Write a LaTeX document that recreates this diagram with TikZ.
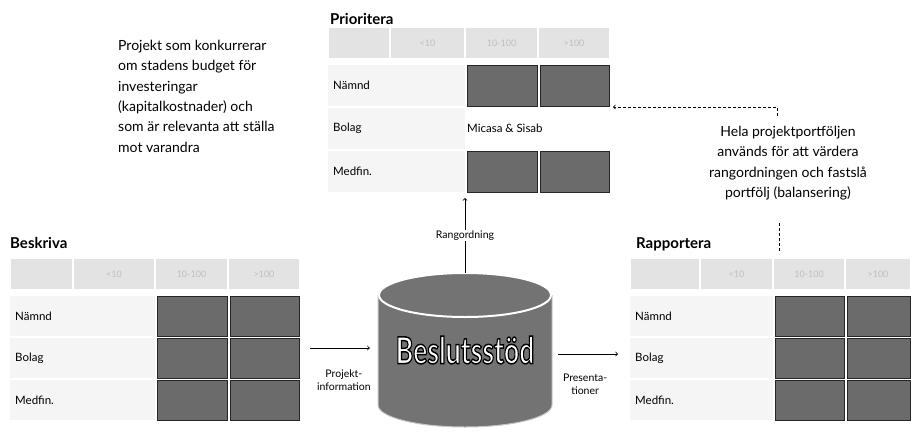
\documentclass[tikz,border=0pt]{standalone}
\usepackage{fontspec}
\setmainfont{Lato}
\usetikzlibrary{positioning}

\tikzset{
  rubrik/.style   = {font=\bfseries\fontsize{15}{18}\selectfont, anchor=base west, inner sep=0pt},
  brodtext/.style = {font=\fontsize{14}{20.3}\selectfont, align=left, anchor=north west, inner sep=0pt},
  radtext/.style  = {font=\fontsize{11.5}{13}\selectfont, anchor=west, inner sep=0pt},
  liten/.style    = {font=\fontsize{10.5}{13}\selectfont, align=center, inner sep=1pt},
  huvud/.style    = {fill=gray!22, draw=white, line width=1.2pt},
  huvudtext/.style= {font=\fontsize{9}{11}\selectfont, text=gray!50, inner sep=0pt},
  ljus/.style     = {fill=gray!8},
  mork/.style     = {fill=black!58, draw=black!85, line width=0.8pt},
  databas/.style  = {fill=black!55},
  streckad/.style = {dash pattern=on 3pt off 2pt, line width=0.8pt},
}

% vit text med svart kontur
\newcommand{\kontur}[1]{\special{pdf:code q 2 Tr 1.5 w 0 0 0 RG}#1\special{pdf:code Q}}

% #1 namn, #2-#6 kolumnkanter, #7 topp, #8 radhojd, #9 rader med morka celler
\newcommand{\tabell}[9]{%
  % huvudrad
  \foreach \a/\b/\t [count=\k] in {#2/#3/{}, #3/#4/{<10}, #4/#5/{10-100}, #5/#6/{>100}} {
    \path[huvud] (\a,#7) rectangle (\b,#7+32);
    \node[huvudtext] (#1-h\k) at ({(\a+\b)/2},#7+16) {\t};
  }
  % rader
  \foreach \n/\t [count=\i from 0] in {namnd/Nämnd, bolag/Bolag, medfin/Medfin.} {
    \fill[ljus] (#2,{#7+38+\i*(#8+2)}) rectangle (#4,{#7+38+\i*(#8+2)+#8});
    \node[radtext] (#1-\n) at (#2+5,{#7+38+\i*(#8+2)+#8/2}) {\t};
  }
  % morka celler
  \foreach \i in {#9} {
    \filldraw[mork] (#4+2,{#7+38+\i*(#8+2)}) rectangle (#5-1,{#7+38+\i*(#8+2)+#8});
    \filldraw[mork] (#5+2,{#7+38+\i*(#8+2)}) rectangle (#6-1,{#7+38+\i*(#8+2)+#8});
  }
  \coordinate (#1-bas)   at ({(#2+#6)/2},{#7+38+3*#8+10});
  \coordinate (#1-hoger) at (#6+3,{#7+38+#8+1});
}

\begin{document}
\begin{tikzpicture}[x=1pt, y=-1pt]
  \useasboundingbox (0,0) rectangle (911,432);

  % tabeller
  \tabell{besk}{10}{73}{155}{228}{300}{258}{40}{0,1,2}
  \tabell{prio}{328}{390}{465}{538}{610}{27}{41}{0,2}
  \tabell{rapp}{630}{700}{773}{845}{911}{258}{40}{0,1,2}

  \node[rubrik] (beskriva)   at (10,248)  {Beskriva};
  \node[rubrik] (prioritera) at (330,24)  {Prioritera};
  \node[rubrik] (rapportera) at (636,248) {Rapportera};

  \node[radtext] (micasa) at (467,128.5) {Micasa \& Sisab};

  % databas
  \fill[databas] (378,295) rectangle (552,405);
  \fill[databas] (465,405) ellipse [x radius=87, y radius=22];
  \draw[gray!45, line width=1pt] (378,295) -- (378,405)
    arc [start angle=180, end angle=0, x radius=87, y radius=22] -- (552,295);
  \filldraw[databas, draw=white, line width=2pt] (465,295) ellipse [x radius=86, y radius=22];
  \node[minimum width=174pt, minimum height=154pt, inner sep=0pt] (db) at (465,350)
    {\scalebox{0.72}[1]{\fontsize{37}{40}\selectfont\bfseries\textcolor{white}{\kontur{Beslutsstöd}}}};

  % pilar
  \coordinate (besk-ut) at (310,348);
  \coordinate (rapp-in) at (618,354);
  \draw[->, line width=0.8pt] (besk-ut) -- (besk-ut -| db.west)
    [shorten >=8pt] node[liten, midway, below=20pt] (projinfo) {Projekt-\\information};
  \draw[->, line width=0.8pt, shorten <=6pt] (rapp-in -| db.east) -- (rapp-in)
    node[liten, midway, below=19pt] (presentationer) {Presenta-\\tioner};
  \draw[->, line width=0.8pt] (db.north) -- (db.north |- prio-bas)
    node[liten, midway, fill=white] (rangordning) {Rangordning};

  % texter
  \node[brodtext] (projekt) at (118,40) {Projekt som konkurrerar\\om stadens budget för\\investeringar\\(kapitalkostnader) och\\som är relevanta att ställa\\mot varandra};
  \node[brodtext, align=center, anchor=north] (hela) at (788,126) {Hela projektportföljen\\används för att värdera\\rangordningen och fastslå\\portfölj (balansering)};

  % streckade linjer
  \coordinate (hela-ut)   at (777,116);
  \coordinate (hela-horn) at (777,107);
  \coordinate (hela-ned)  at (779,223);
  \coordinate (rapp-topp) at (779,252);
  \draw[streckad, ->] (hela-ut) -- (hela-horn) -- (prio-hoger);
  \draw[streckad] (hela-ned) -- (rapp-topp);
\end{tikzpicture}
\end{document}
